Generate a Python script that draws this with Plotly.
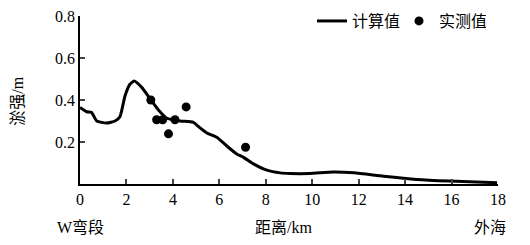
import plotly.graph_objects as go

# calculated line (distance km, siltation m)
calc_x = [0.0, 0.29, 0.5, 0.72, 1.15, 1.51, 1.72, 1.94, 2.15, 2.33, 2.66, 3.02, 3.38, 3.74, 4.31, 4.88,
          5.17, 5.46, 5.89, 6.32, 6.75, 7.04, 7.47, 8.05, 8.62, 9.05, 9.9, 10.9, 11.8, 13.07, 14.5, 15.9, 17.96]
calc_y = [0.364, 0.344, 0.341, 0.30, 0.29, 0.30, 0.32, 0.42, 0.475, 0.49, 0.46, 0.406, 0.352, 0.313, 0.30, 0.294,
          0.267, 0.243, 0.223, 0.181, 0.143, 0.127, 0.096, 0.066, 0.053, 0.05, 0.05, 0.057, 0.053, 0.037, 0.022, 0.014, 0.006]

# measured points
meas_x = [3.05, 3.3, 3.56, 3.81, 4.09, 4.57, 7.13]
meas_y = [0.40, 0.306, 0.306, 0.239, 0.306, 0.367, 0.175]

x_ticks = [0, 2, 4, 6, 8, 10, 12, 14, 16, 18]
y_ticks = [0.2, 0.4, 0.6, 0.8]

SERIF = "Liberation Serif"
CJK = "Liberation Serif, Noto Sans CJK SC"

fig = go.Figure()
fig.add_trace(go.Scatter(x=calc_x, y=calc_y, mode="lines", name="计算值",
                         line=dict(color="black", width=3, shape="spline", smoothing=0.5)))
fig.add_trace(go.Scatter(x=meas_x, y=meas_y, mode="markers", name="实测值",
                         marker=dict(color="black", size=9)))

fig.update_layout(
    width=522, height=237,
    margin=dict(l=72, r=32, t=8, b=61, autoexpand=False),
    plot_bgcolor="white", paper_bgcolor="white",
    font=dict(family=CJK, size=16, color="black"),
    showlegend=True,
    legend=dict(orientation="h", x=0.555, xanchor="left", y=0.97, yanchor="middle",
                font=dict(size=16, family=CJK), itemwidth=30, tracegroupgap=0,
                entrywidth=42, entrywidthmode="pixels",
                bgcolor="rgba(0,0,0,0)"),
    xaxis=dict(range=[0, 18], tickvals=x_ticks, ticks="inside", ticklen=5, tickwidth=1.5,
               showline=True, linecolor="black", linewidth=1.5, showgrid=False, zeroline=False,
               ticklabeloverflow="allow",
               tickfont=dict(size=16, family=SERIF)),
    yaxis=dict(range=[0, 0.8], tickvals=y_ticks, tickformat=".1f", ticks="inside", ticklen=5, tickwidth=1.5,
               showline=True, linecolor="black", linewidth=1.5, showgrid=False, zeroline=False,
               ticklabeloverflow="allow",
               tickfont=dict(size=16, family=SERIF)),
)

ann_y = -0.256
fig.add_annotation(text="W弯段", xref="paper", yref="paper", x=0.002, y=ann_y,
                   showarrow=False, xanchor="center", yanchor="middle", font=dict(size=16, family=CJK))
fig.add_annotation(text="距离/km", xref="paper", yref="paper", x=0.488, y=ann_y,
                   showarrow=False, xanchor="center", yanchor="middle", font=dict(size=16, family=CJK))
fig.add_annotation(text="外海", xref="paper", yref="paper", x=0.981, y=ann_y,
                   showarrow=False, xanchor="center", yanchor="middle", font=dict(size=16, family=CJK))
fig.add_annotation(text="淤强/m", xref="paper", yref="paper", x=-0.148, y=0.49,
                   showarrow=False, textangle=-90, xanchor="center", yanchor="middle", font=dict(size=16, family=CJK))

fig.write_html("out.html")
